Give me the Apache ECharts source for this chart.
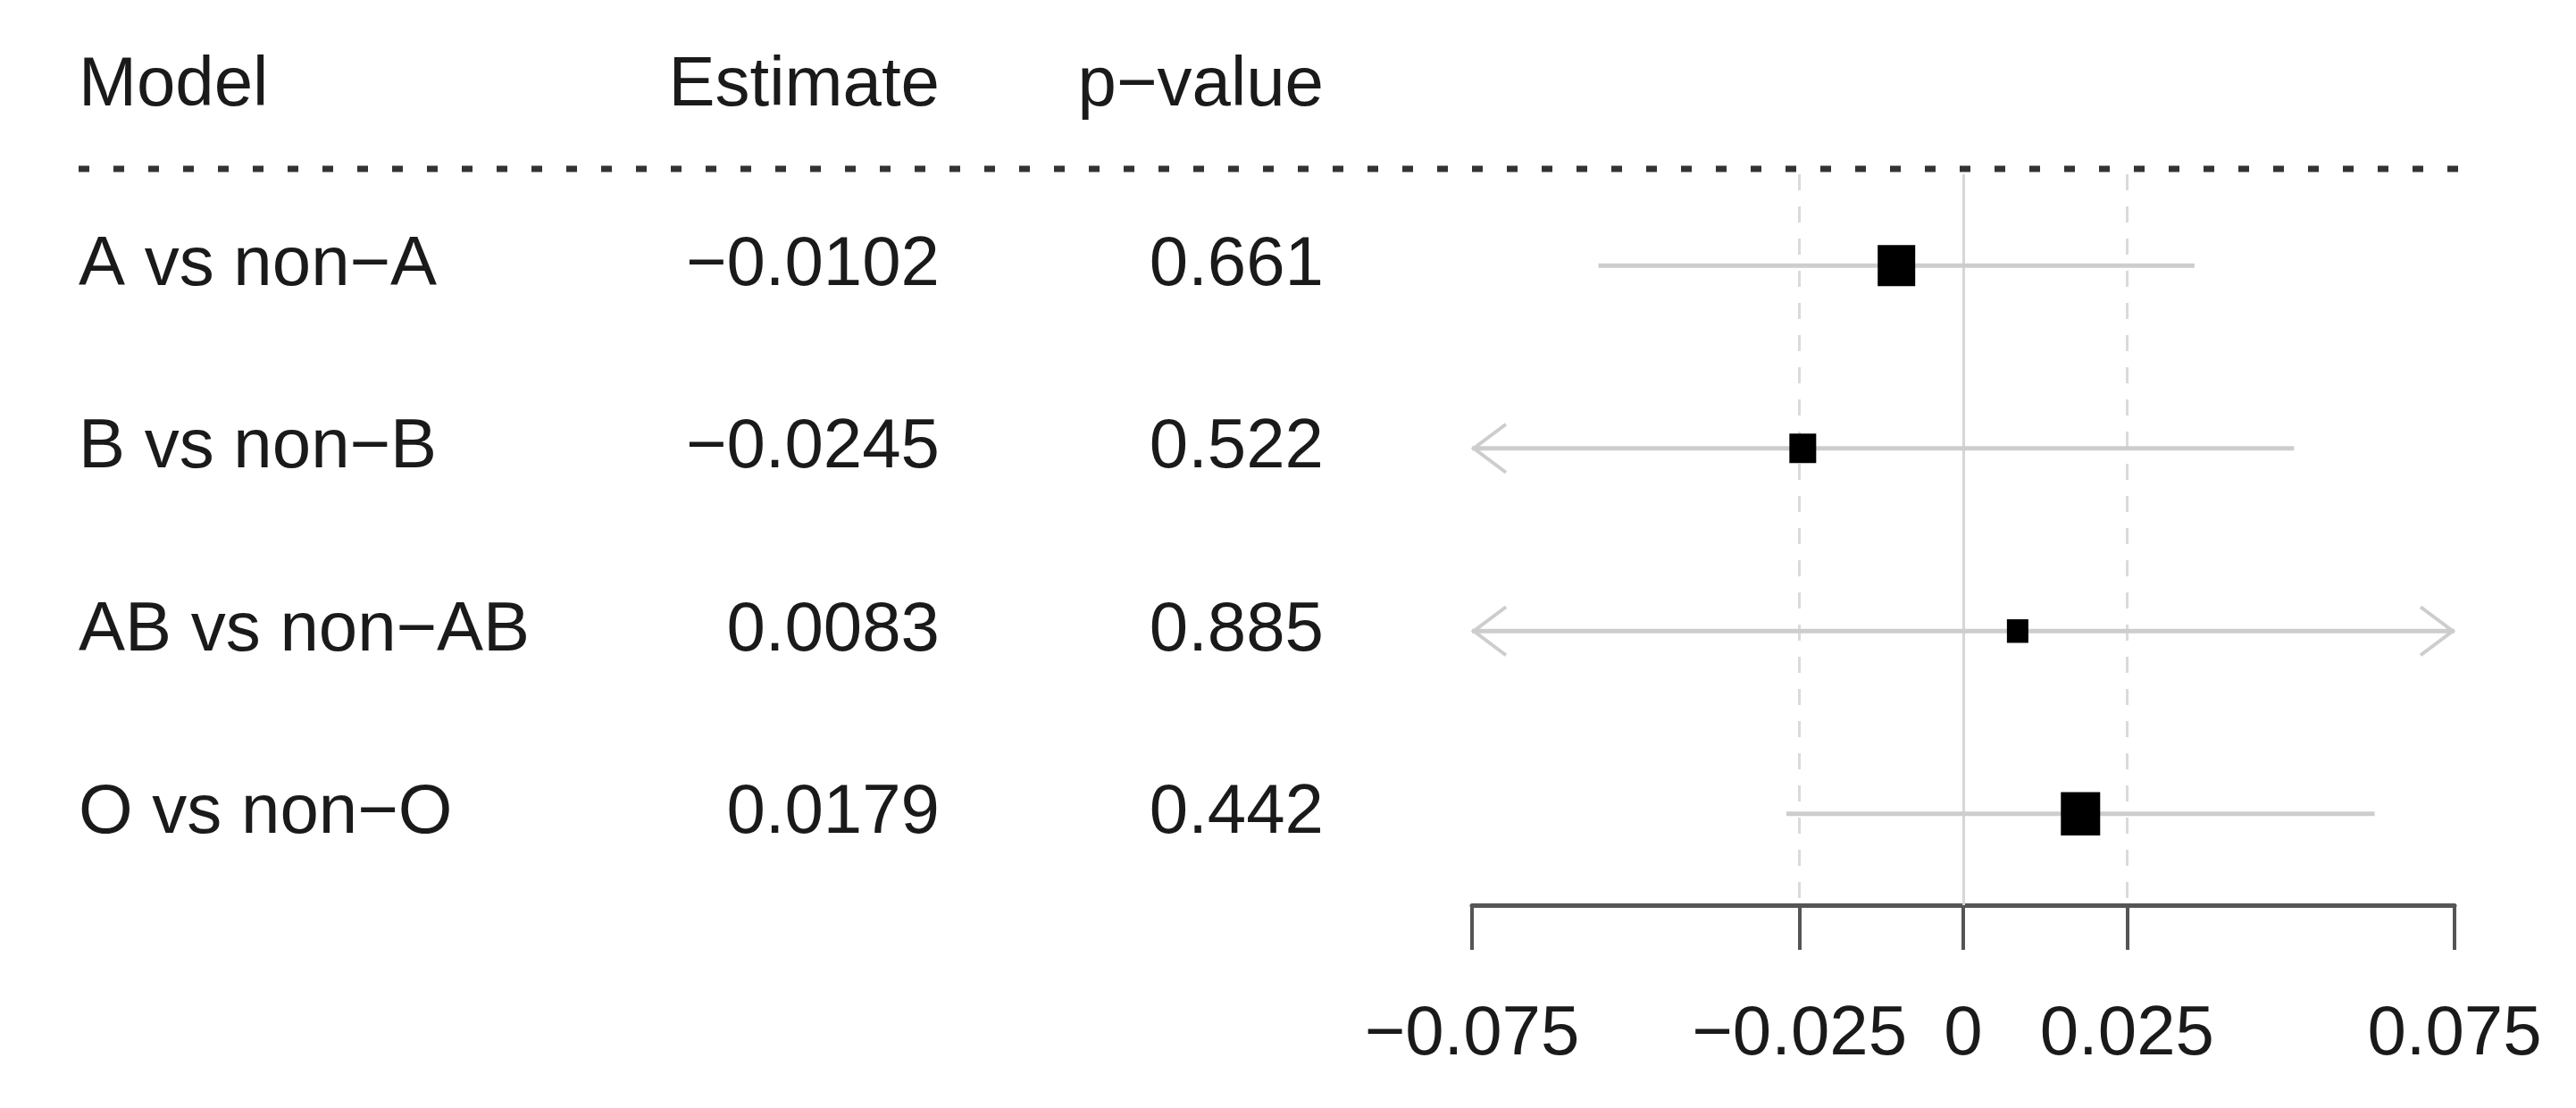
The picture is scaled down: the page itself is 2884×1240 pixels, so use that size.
<!DOCTYPE html>
<html>
<head>
<meta charset="utf-8">
<title>forest plot</title>
<script src="https://cdn.jsdelivr.net/npm/echarts@6/dist/echarts.min.js"></script>
<style>
  html, body { margin: 0; padding: 0; background: #fff; }
  #forest-chart { width: 2884px; height: 1240px; }
</style>
</head>
<body>
<div id="forest-chart"></div>
<script>
// table + forest data
var models = ['A vs non\u2212A', 'B vs non\u2212B', 'AB vs non\u2212AB', 'O vs non\u2212O'];
var estimates = [-0.0102, -0.0245, 0.0083, 0.0179];
var pValues = [0.661, 0.522, 0.885, 0.442];
var ciLower = [-0.0557, -0.0995, -0.1040, -0.0270];
var ciUpper = [0.0353, 0.0505, 0.1210, 0.0628];
var boxSizes = [42, 30, 24, 44]; // box size ~ weight
var tickValues = [-0.075, -0.025, 0, 0.025, 0.075];
var refLines = [-0.025, 0, 0.025];
var headers = ['Model', 'Estimate', 'p\u2212value'];

var FONT = '"Liberation Sans", Arial, sans-serif';
var FSIZE = 78;
var textColor = '#1a1a1a';
var ciColor = '#cdcdcd';
var xMin = -0.075, xMax = 0.075;

// columns of the table (pixels)
var colModel = 88, colEst = 1052, colP = 1482;

function fmt(v) {
	return String(v).replace('-', '\u2212');
}

var rowData = [];
var ciData = [];
var boxData = [];
for (var i = 0; i < models.length; i++) {
	rowData.push([i]);
	ciData.push([ciLower[i], ciUpper[i], i]);
	boxData.push({ value: [estimates[i], i], symbolSize: [boxSizes[i], boxSizes[i] * 1.1] });
}

var chart = echarts.init(document.getElementById('forest-chart'));
var option = {
	animation: false,
	backgroundColor: '#fff',
	grid: { left: 1648, width: 1100, top: 195, height: 818 },
	xAxis: {
		type: 'value',
		min: xMin,
		max: xMax,
		interval: 0.025,
		axisLine: { show: true, lineStyle: { color: '#555', width: 5 } },
		axisTick: { show: true, customValues: tickValues, length: 50, lineStyle: { color: '#555', width: 4 } },
		axisLabel: {
			customValues: tickValues,
			margin: 106,
			fontFamily: FONT,
			fontSize: FSIZE,
			color: textColor,
			formatter: function (v) { return v === 0 ? '0' : fmt(v); }
		},
		splitLine: { show: false }
	},
	yAxis: {
		type: 'category',
		data: models,
		inverse: true,
		show: false
	},
	graphic: [
		{ type: 'text', x: colModel, y: 96, style: { text: headers[0], font: FSIZE + 'px ' + FONT, fill: textColor, textAlign: 'left', textVerticalAlign: 'middle' } },
		{ type: 'text', x: colEst, y: 96, style: { text: headers[1], font: FSIZE + 'px ' + FONT, fill: textColor, textAlign: 'right', textVerticalAlign: 'middle' } },
		{ type: 'text', x: colP, y: 96, style: { text: headers[2], font: FSIZE + 'px ' + FONT, fill: textColor, textAlign: 'right', textVerticalAlign: 'middle' } },
		{ type: 'line', shape: { x1: 88, y1: 189, x2: 2753, y2: 189 }, style: { stroke: '#333', lineWidth: 7, lineDash: [12, 27] } }
	],
	series: [
		{
			// table cells
			type: 'custom',
			clip: false,
			silent: true,
			data: rowData,
			renderItem: function (params, api) {
				var idx = api.value(0);
				var y = api.coord([0, idx])[1];
				var st = { font: FSIZE + 'px ' + FONT, fill: textColor, textVerticalAlign: 'middle' };
				return {
					type: 'group',
					children: [
						{ type: 'text', x: colModel, y: y, style: Object.assign({}, st, { text: models[idx], textAlign: 'left' }) },
						{ type: 'text', x: colEst, y: y, style: Object.assign({}, st, { text: fmt(estimates[idx]), textAlign: 'right' }) },
						{ type: 'text', x: colP, y: y, style: Object.assign({}, st, { text: String(pValues[idx]), textAlign: 'right' }) }
					]
				};
			}
		},
		{
			// confidence intervals (arrows when out of range)
			type: 'custom',
			clip: false,
			silent: true,
			z: 2,
			data: ciData,
			renderItem: function (params, api) {
				var lo = api.value(0), hi = api.value(1), row = api.value(2);
				var loC = Math.max(lo, xMin), hiC = Math.min(hi, xMax);
				var p1 = api.coord([loC, row]);
				var p2 = api.coord([hiC, row]);
				var kids = [{
					type: 'line',
					shape: { x1: p1[0], y1: p1[1], x2: p2[0], y2: p2[1] },
					style: { stroke: ciColor, lineWidth: 5 }
				}];
				if (lo < xMin) {
					kids.push({ type: 'polyline', shape: { points: [[p1[0] + 38, p1[1] - 27], [p1[0] + 2, p1[1]], [p1[0] + 38, p1[1] + 27]] }, style: { stroke: ciColor, lineWidth: 4, fill: null } });
				}
				if (hi > xMax) {
					kids.push({ type: 'polyline', shape: { points: [[p2[0] - 38, p2[1] - 27], [p2[0] - 2, p2[1]], [p2[0] - 38, p2[1] + 27]] }, style: { stroke: ciColor, lineWidth: 4, fill: null } });
				}
				return { type: 'group', children: kids };
			}
		},
		{
			// point estimates
			type: 'scatter',
			symbol: 'rect',
			z: 3,
			silent: true,
			itemStyle: { color: '#000', opacity: 1 },
			data: boxData,
			markLine: {
				silent: true,
				symbol: 'none',
				precision: 6,
				label: { show: false },
				z: 1,
				data: refLines.map(function (v) {
					return {
						xAxis: v,
						lineStyle: { color: v === 0 ? '#d6d6d6' : '#dadada', width: 3, type: v === 0 ? 'solid' : [18, 18] }
					};
				})
			}
		}
	]
};
chart.setOption(option);
window.addEventListener('resize', chart.resize);
</script>
</body>
</html>
